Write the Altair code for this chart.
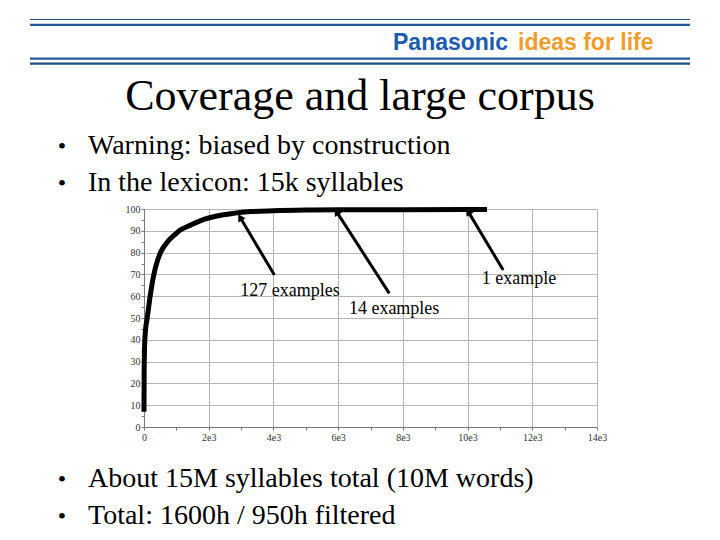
import math
import altair as alt
import pandas as pd

# ---- data ----
coverage_x = [0, 5, 20, 50, 100, 190, 305, 400, 510, 730, 935, 1090, 1440,
              1850, 2250, 2760, 3300, 4000, 5000, 6000, 8000, 10000, 10600]
coverage_y = [7, 25, 38, 45, 50, 60, 70, 75.5, 80, 85, 88, 90, 92.6,
              95.2, 96.8, 98, 98.8, 99.2, 99.5, 99.6, 99.7, 99.8, 99.8]

arrow_tail_x = [4030, 7580, 11100]
arrow_tail_y = [69.7, 61.3, 72]
arrow_head_x = [2970, 5950, 10020]
arrow_head_y = [96.2, 98.8, 98.8]

label_text = ["127 examples", "14 examples", "1 example"]
label_x = [4510, 7730, 11590]
label_y = [62.4, 54.1, 67.9]

x_tick_values = [0, 1000, 2000, 3000, 4000, 5000, 6000, 7000, 8000,
                 9000, 10000, 11000, 12000, 13000, 14000]
y_tick_values = [0, 5, 10, 15, 20, 25, 30, 35, 40, 45, 50,
                 55, 60, 65, 70, 75, 80, 85, 90, 95, 100]

slide_title = "Coverage and large corpus"
bullets_top = ["Warning: biased by construction", "In the lexicon: 15k syllables"]
bullets_bottom = ["About 15M syllables total (10M words)", "Total: 1600h / 950h filtered"]
logo_a = "Panasonic"
logo_b = "ideas for life"

SERIF = "Liberation Serif, Times New Roman, serif"
SANS = "Liberation Sans, Arial, sans-serif"

# ---- layout ----
W, H = 453, 218
OX, OY = 144, 209          # plot origin in page coordinates
PAD_L, PAD_T = OX - 8, OY - 8
PAD_R = 704 - PAD_L - W
PAD_B = 524 - PAD_T - H

XDOM = [0, 14000]
YDOM = [0, 100]


def rx(px):
    return px - OX


def ry(py):
    return py - OY


curve = pd.DataFrame({"x": coverage_x, "y": coverage_y})

angles = []
for tx, ty, hx, hy in zip(arrow_tail_x, arrow_tail_y, arrow_head_x, arrow_head_y):
    dx = (hx - tx) * W / (XDOM[1] - XDOM[0])
    dy = -(hy - ty) * H / (YDOM[1] - YDOM[0])
    angles.append(math.degrees(math.atan2(dx, -dy)) % 360)

arrows = pd.DataFrame({"tx": arrow_tail_x, "ty": arrow_tail_y,
                       "hx": arrow_head_x, "hy": arrow_head_y, "angle": angles})
labels = pd.DataFrame({"t": label_text, "x": label_x, "y": label_y})

xscale = alt.Scale(domain=XDOM, nice=False, zero=False)
yscale = alt.Scale(domain=YDOM, nice=False, zero=False)

x_axis = alt.Axis(
    values=x_tick_values,
    labelExpr="datum.value % 2000 != 0 ? '' : (datum.value == 0 ? '0' : (datum.value/1000) + 'e3')",
    grid=True,
    gridOpacity={"condition": {"test": "datum.value % 2000 == 0", "value": 1}, "value": 0},
    tickSize=3,
    labelPadding=2,
    title=None,
    labelFlush=False,
    labelOverlap=False,
)
y_axis = alt.Axis(
    values=y_tick_values,
    labelExpr="datum.value % 10 != 0 ? '' : datum.value",
    grid=True,
    gridOpacity={"condition": {"test": "datum.value % 10 == 0", "value": 1}, "value": 0},
    tickSize=3,
    labelPadding=1,
    title=None,
    labelOverlap=False,
)


def X(f):
    return alt.X(f, type="quantitative", scale=xscale, axis=x_axis)


def Y(f):
    return alt.Y(f, type="quantitative", scale=yscale, axis=y_axis)


line = alt.Chart(curve).mark_line(color="black", strokeWidth=5, interpolate="monotone").encode(
    x=X("x"), y=Y("y"),
)

arrow_lines = alt.Chart(arrows).mark_rule(color="black", strokeWidth=3).encode(
    x=X("tx"), y=Y("ty"), x2="hx:Q", y2="hy:Q"
)
arrow_heads = alt.Chart(arrows).mark_point(
    shape="triangle-up", filled=True, color="black", size=70, opacity=1
).encode(x=X("hx"), y=Y("hy"), angle=alt.Angle("angle:Q", scale=None))

ann = alt.Chart(labels).mark_text(
    font=SERIF, fontSize=18, color="black", align="center", baseline="middle"
).encode(x=X("x"), y=Y("y"), text="t:N")


def txt(s, x, y, size, color="black", align="left", font=SERIF,
        weight="normal", baseline="alphabetic"):
    return alt.Chart(alt.Data(values=[{"t": s}])).mark_text(
        font=font, fontSize=size, color=color, align=align, baseline=baseline,
        fontWeight=weight,
    ).encode(x=alt.value(rx(x)), y=alt.value(ry(y)), text="t:N")


def hrule(y, w, color="#23599a"):
    return alt.Chart(alt.Data(values=[{}])).mark_rule(color=color, strokeWidth=w).encode(
        x=alt.value(rx(30)), x2=alt.value(rx(690)), y=alt.value(ry(y))
    )


deco = [
    hrule(19.5, 1.2, "#1f4f86"),
    hrule(24.8, 2.2),
    hrule(58.7, 2.2),
    hrule(63.7, 2.2, "#1f4f86"),
    txt(logo_a, 393, 50, 23, "#1b5cae", font=SANS, weight="bold"),
    txt(logo_b, 518, 50, 23, "#f19d2c", font=SANS, weight="bold"),
    txt(slide_title, 360, 110, 44, align="center"),
]
for i, b in enumerate(bullets_top):
    y = 154 + i * 37
    deco.append(txt("•", 62, y, 24, align="center"))
    deco.append(txt(b, 88, y, 28))
for i, b in enumerate(bullets_bottom):
    y = 487 + i * 37
    deco.append(txt("•", 62, y, 24, align="center"))
    deco.append(txt(b, 88, y, 28))

chart = alt.layer(line, arrow_lines, arrow_heads, ann, *deco).properties(
    width=W, height=H,
    autosize=alt.AutoSizeParams(type="none"),
    padding={"left": PAD_L, "top": PAD_T, "right": PAD_R, "bottom": PAD_B},
    background="white",
).configure_view(strokeWidth=0).configure_axis(
    labelFont=SERIF, labelFontSize=10, labelColor="#333",
    domainColor="#777", tickColor="#777", gridColor="#b5b5b5", gridWidth=1,
)

chart.save("out.html", embed_options={"renderer": "svg", "actions": False})
